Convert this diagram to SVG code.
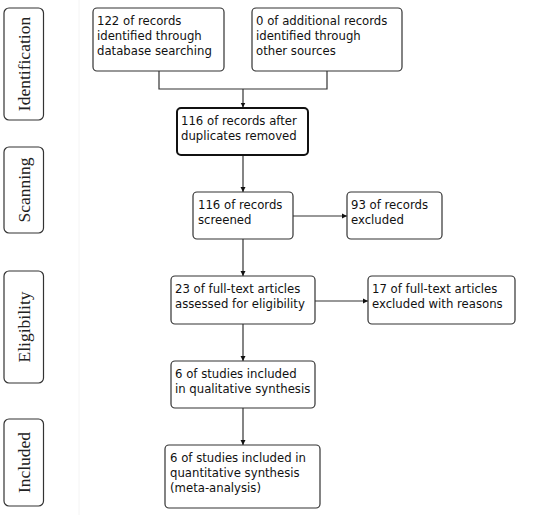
<svg xmlns="http://www.w3.org/2000/svg" width="536" height="515" viewBox="0 0 536 515">
<defs>
<style>
.box{fill:#fff;stroke:#333;stroke-width:1.2}
.thick{fill:#fff;stroke:#111;stroke-width:2}
.t{font-family:"DejaVu Sans",sans-serif;font-size:11.7px;fill:#111}
.lab{font-family:"Liberation Serif",serif;font-size:17.5px;fill:#222;text-anchor:middle}
.c{fill:none;stroke:#333;stroke-width:1.2}
</style>
<marker id="ah" markerWidth="6" markerHeight="6" refX="5" refY="3" orient="auto" markerUnits="userSpaceOnUse">
<path d="M0,0.5 L5,3 L0,5.5 Z" fill="#111"/>
</marker>
</defs>
<rect width="536" height="515" fill="#fff"/>
<line x1="79" y1="0" x2="79" y2="515" stroke="#f4f4f4" stroke-width="1"/>
<g id="stage-identification"><rect class="box" x="4" y="8" width="39.5" height="112" rx="5"/><text class="lab" transform="translate(30,64) rotate(-90)">Identification</text></g>
<g id="stage-scanning"><rect class="box" x="4" y="147" width="39.5" height="86" rx="5"/><text class="lab" transform="translate(30,190) rotate(-90)">Scanning</text></g>
<g id="stage-eligibility"><rect class="box" x="4" y="271" width="39.5" height="112" rx="5"/><text class="lab" transform="translate(30,327) rotate(-90)">Eligibility</text></g>
<g id="stage-included"><rect class="box" x="4" y="419" width="39.5" height="87" rx="5"/><text class="lab" transform="translate(30,462.5) rotate(-90)">Included</text></g>
<g id="connectors">
<polyline class="c" points="159,71 159,89 327,89 327,71"/>
<line class="c" x1="243" y1="89" x2="243" y2="107.5" marker-end="url(#ah)"/>
<line class="c" x1="243" y1="155" x2="243" y2="192" marker-end="url(#ah)"/>
<line class="c" x1="293" y1="216" x2="347" y2="216" marker-end="url(#ah)"/>
<line class="c" x1="243" y1="239" x2="243" y2="276" marker-end="url(#ah)"/>
<line class="c" x1="315" y1="301" x2="368" y2="301" marker-end="url(#ah)"/>
<line class="c" x1="243" y1="324" x2="243" y2="361" marker-end="url(#ah)"/>
<line class="c" x1="243" y1="408" x2="243" y2="445" marker-end="url(#ah)"/>
</g>
<g id="n1"><rect class="box" x="93" y="8" width="131" height="63" rx="4"/><text class="t" x="97" y="25">122 of records<tspan x="97" y="40">identified through</tspan><tspan x="97" y="55">database searching</tspan></text></g>
<g id="n2"><rect class="box" x="252" y="8" width="150" height="63" rx="4"/><text class="t" x="256" y="25">0 of additional records<tspan x="256" y="40">identified through</tspan><tspan x="256" y="55">other sources</tspan></text></g>
<g id="n3"><rect class="thick" x="177" y="108" width="131" height="47" rx="4"/><text class="t" x="181" y="125">116 of records after<tspan x="181" y="140">duplicates removed</tspan></text></g>
<g id="n4"><rect class="box" x="193" y="192" width="100" height="47" rx="4"/><text class="t" x="198" y="209">116 of records<tspan x="198" y="224">screened</tspan></text></g>
<g id="n5"><rect class="box" x="347" y="192" width="95" height="47" rx="4"/><text class="t" x="351" y="209">93 of records<tspan x="351" y="224">excluded</tspan></text></g>
<g id="n6"><rect class="box" x="171" y="276" width="144" height="48" rx="4"/><text class="t" x="175" y="293">23 of full-text articles<tspan x="175" y="308">assessed for eligibility</tspan></text></g>
<g id="n7"><rect class="box" x="368" y="276" width="147" height="48" rx="4"/><text class="t" x="372" y="293">17 of full-text articles<tspan x="372" y="308">excluded with reasons</tspan></text></g>
<g id="n8"><rect class="box" x="171" y="361" width="144" height="47" rx="4"/><text class="t" x="175" y="378">6 of studies included<tspan x="175" y="393">in qualitative synthesis</tspan></text></g>
<g id="n9"><rect class="box" x="165" y="445" width="155" height="63" rx="4"/><text class="t" x="170" y="462">6 of studies included in<tspan x="170" y="477">quantitative synthesis</tspan><tspan x="170" y="492">(meta-analysis)</tspan></text></g>
</svg>
